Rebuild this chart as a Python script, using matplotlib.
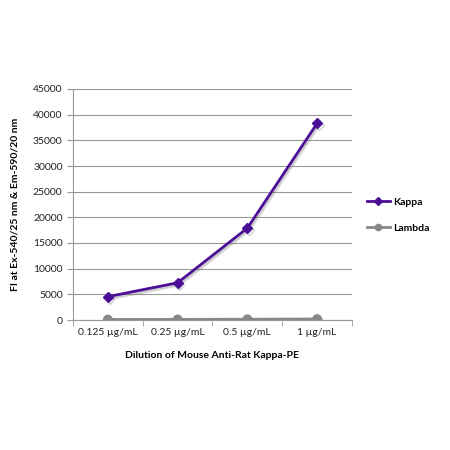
import matplotlib.pyplot as plt
import matplotlib.patheffects as pe
import numpy as np

plt.rcParams['font.family'] = ['Lato', 'DejaVu Sans']

categories = ['0.125 µg/mL', '0.25 µg/mL', '0.5 µg/mL', '1 µg/mL']
kappa = [4550, 7250, 17900, 38300]
lambda_ = [100, 120, 150, 200]

fig = plt.figure(figsize=(4.5, 4.5), dpi=100)
ax = fig.add_axes([73 / 450, 1 - 320 / 450, 279 / 450, 231 / 450])

x = np.arange(len(categories))
shadow = [pe.SimpleLineShadow(offset=(1.2, -1.5), shadow_color='#777777', alpha=0.35), pe.Normal()]
ax.plot(x, kappa, color='#4B0F96', lw=2, marker='D', ms=5, label='Kappa', path_effects=shadow, zorder=3)
ax.plot(x, lambda_, color='#888888', lw=2, marker='o', ms=6, label='Lambda', path_effects=shadow, zorder=3)

ax.set_xlim(-0.5, 3.5)
ax.set_ylim(0, 45000)
ax.set_yticks(np.arange(0, 45001, 5000))
ax.set_xticks(x)
ax.set_xticklabels(categories)
ax.set_xticks(np.arange(-0.5, 3.6, 1), minor=True)
ax.tick_params(axis='x', which='major', length=0, labelsize=7.5, pad=6, colors='#222222')
ax.tick_params(axis='x', which='minor', length=4, color='#999999', direction='out')
ax.tick_params(axis='y', length=4, color='#999999', labelsize=7.5, colors='#222222')
ax.yaxis.grid(True, color='#999999', lw=0.8)
ax.set_axisbelow(True)
for s in ['top', 'right']:
    ax.spines[s].set_visible(False)
for s in ['left', 'bottom']:
    ax.spines[s].set_color('#999999')

ax.set_xlabel('Dilution of Mouse Anti-Rat Kappa-PE', fontsize=7.5, fontweight='bold', labelpad=10)
ax.set_ylabel('FI at Ex-540/25 nm & Em-590/20 nm', fontsize=7.5, fontweight='bold', labelpad=10)

leg = ax.legend(loc='center left', bbox_to_anchor=(1.02, 0.455), frameon=False,
                handlelength=2.2, handletextpad=0.3, labelspacing=1.6, markerscale=0.75,
                prop={'weight': 'bold', 'size': 7.5})
for h in leg.get_lines():
    h.set_path_effects([])

fig.savefig('out.png', dpi=100)
